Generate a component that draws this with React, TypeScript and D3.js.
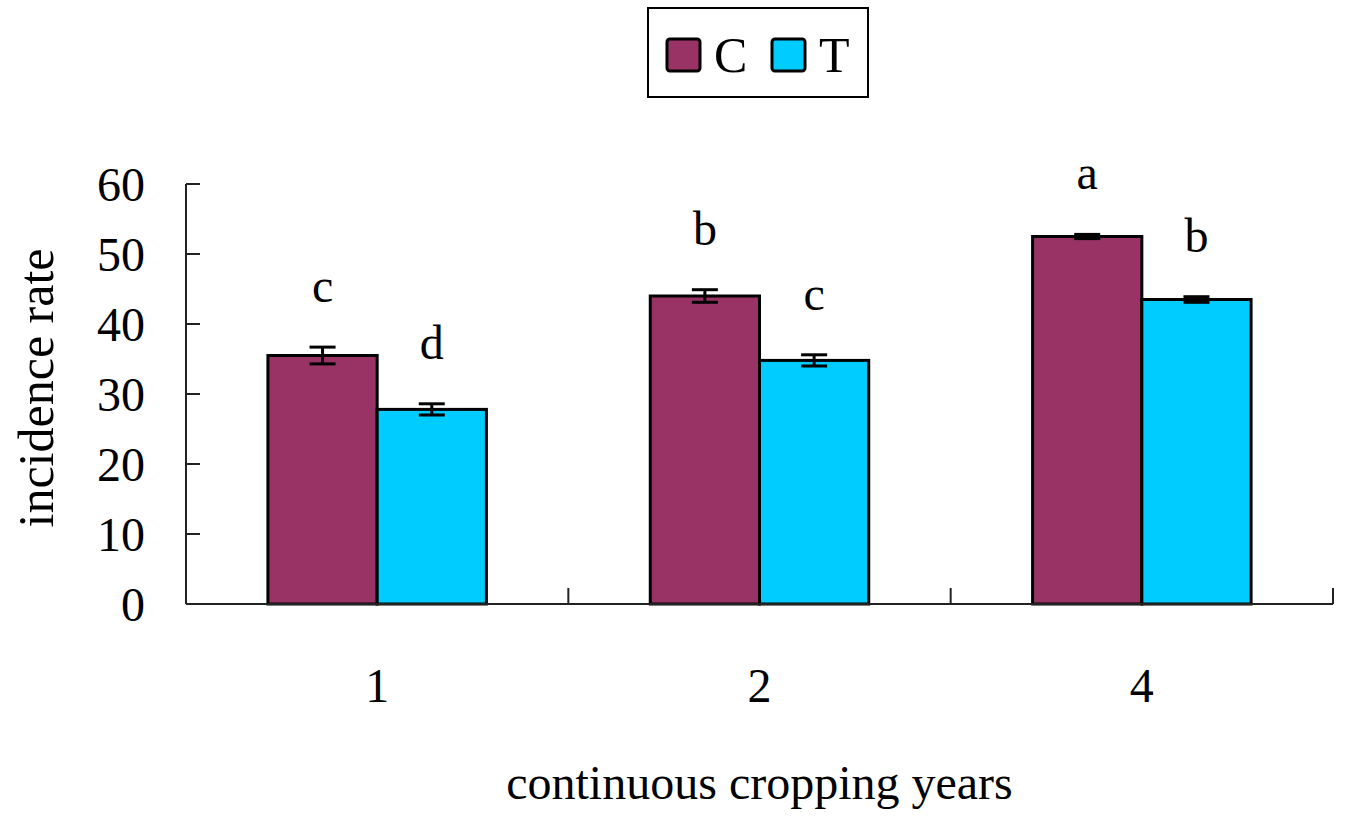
import { useEffect, useRef } from "react";
import { scaleBand, scaleLinear, select } from "d3";

const years = ["1", "2", "4"];
const seriesNames = ["C", "T"];
const valuesC = [35.5, 44.0, 52.5];
const valuesT = [27.8, 34.8, 43.5];
const errorsC = [1.2, 0.9, 0.3];
const errorsT = [0.8, 0.8, 0.4];
const lettersC = ["c", "b", "a"];
const lettersT = ["d", "c", "b"];
const yTicks = [0, 10, 20, 30, 40, 50, 60];
const colors = ["#993366", "#00ccff"];

const W = 1354,
  H = 822;
const FONT = "'Liberation Serif', 'Times New Roman', serif";

export default function App() {
  const ref = useRef<SVGSVGElement>(null);

  useEffect(() => {
    if (!ref.current) return;
    const svg = select(ref.current);
    svg.selectAll("*").remove();

    const left = 186,
      right = 1333,
      top = 184,
      bottom = 604;
    const x = scaleBand<string>().domain(years).range([left, right]).padding(0);
    const sub = scaleBand<string>().domain(seriesNames).range([0, x.bandwidth()]).paddingOuter(0.75).paddingInner(0);
    const y = scaleLinear().domain([0, 60]).range([bottom, top]);

    const series = [
      { name: "C", values: valuesC, errors: errorsC, letters: lettersC, color: colors[0] },
      { name: "T", values: valuesT, errors: errorsT, letters: lettersT, color: colors[1] },
    ];

    // bars
    series.forEach((s) => {
      years.forEach((yr, i) => {
        const bx = (x(yr) || 0) + (sub(s.name) || 0);
        svg
          .append("rect")
          .attr("x", bx)
          .attr("y", y(s.values[i]))
          .attr("width", sub.bandwidth())
          .attr("height", y(0) - y(s.values[i]))
          .attr("fill", s.color)
          .attr("stroke", "#000")
          .attr("stroke-width", 3);
      });
    });

    // error bars + significance letters
    series.forEach((s) => {
      years.forEach((yr, i) => {
        const cx = (x(yr) || 0) + (sub(s.name) || 0) + sub.bandwidth() / 2;
        const hi = y(s.values[i] + s.errors[i]);
        const lo = y(s.values[i] - s.errors[i]);
        const g = svg.append("g").attr("stroke", "#000").attr("stroke-width", 3);
        g.append("line").attr("x1", cx).attr("x2", cx).attr("y1", hi).attr("y2", lo);
        g.append("line").attr("x1", cx - 13).attr("x2", cx + 13).attr("y1", hi).attr("y2", hi);
        g.append("line").attr("x1", cx - 13).attr("x2", cx + 13).attr("y1", lo).attr("y2", lo);
        svg
          .append("text")
          .attr("x", cx)
          .attr("y", hi - 45)
          .attr("text-anchor", "middle")
          .attr("font-family", FONT)
          .attr("font-size", 48)
          .attr("fill", "#000")
          .text(s.letters[i]);
      });
    });

    // axes
    const axis = svg.append("g").attr("stroke", "#222").attr("stroke-width", 2).attr("fill", "none");
    axis.append("line").attr("x1", left).attr("x2", left).attr("y1", top).attr("y2", bottom);
    axis.append("line").attr("x1", left).attr("x2", right).attr("y1", bottom).attr("y2", bottom);
    yTicks.forEach((t) => {
      axis.append("line").attr("x1", left).attr("x2", left + 14).attr("y1", y(t)).attr("y2", y(t));
      svg
        .append("text")
        .attr("x", 145)
        .attr("y", y(t))
        .attr("dy", "0.35em")
        .attr("text-anchor", "end")
        .attr("font-family", FONT)
        .attr("font-size", 48)
        .attr("fill", "#000")
        .text(t);
    });
    years.forEach((yr) => {
      const edge = (x(yr) || 0) + x.bandwidth();
      axis.append("line").attr("x1", edge).attr("x2", edge).attr("y1", bottom).attr("y2", bottom - 16);
      svg
        .append("text")
        .attr("x", (x(yr) || 0) + x.bandwidth() / 2)
        .attr("y", 702)
        .attr("text-anchor", "middle")
        .attr("font-family", FONT)
        .attr("font-size", 48)
        .attr("fill", "#000")
        .text(yr);
    });

    // axis titles
    svg
      .append("text")
      .attr("x", (left + right) / 2)
      .attr("y", 799)
      .attr("text-anchor", "middle")
      .attr("font-family", FONT)
      .attr("font-size", 48)
      .attr("fill", "#000")
      .text("continuous cropping years");
    svg
      .append("text")
      .attr("transform", "translate(53,388) rotate(-90)")
      .attr("text-anchor", "middle")
      .attr("font-family", FONT)
      .attr("font-size", 50)
      .attr("fill", "#000")
      .text("incidence rate");

    // legend
    const lg = svg.append("g");
    lg.append("rect")
      .attr("x", 648)
      .attr("y", 8)
      .attr("width", 220)
      .attr("height", 89)
      .attr("fill", "#fff")
      .attr("stroke", "#000")
      .attr("stroke-width", 2);
    const legendX = [667, 772];
    series.forEach((s, i) => {
      lg.append("rect")
        .attr("x", legendX[i])
        .attr("y", 39)
        .attr("width", 33)
        .attr("height", 32)
        .attr("rx", 3)
        .attr("fill", s.color)
        .attr("stroke", "#000")
        .attr("stroke-width", 3);
      lg.append("text")
        .attr("x", legendX[i] + 47)
        .attr("y", 72)
        .attr("font-family", FONT)
        .attr("font-size", 50)
        .attr("fill", "#000")
        .text(s.name);
    });
  }, []);

  return (
    <svg
      ref={ref}
      width={W}
      height={H}
      viewBox={`0 0 ${W} ${H}`}
      style={{ position: "absolute", left: 0, top: 0, background: "#fff" }}
    />
  );
}
